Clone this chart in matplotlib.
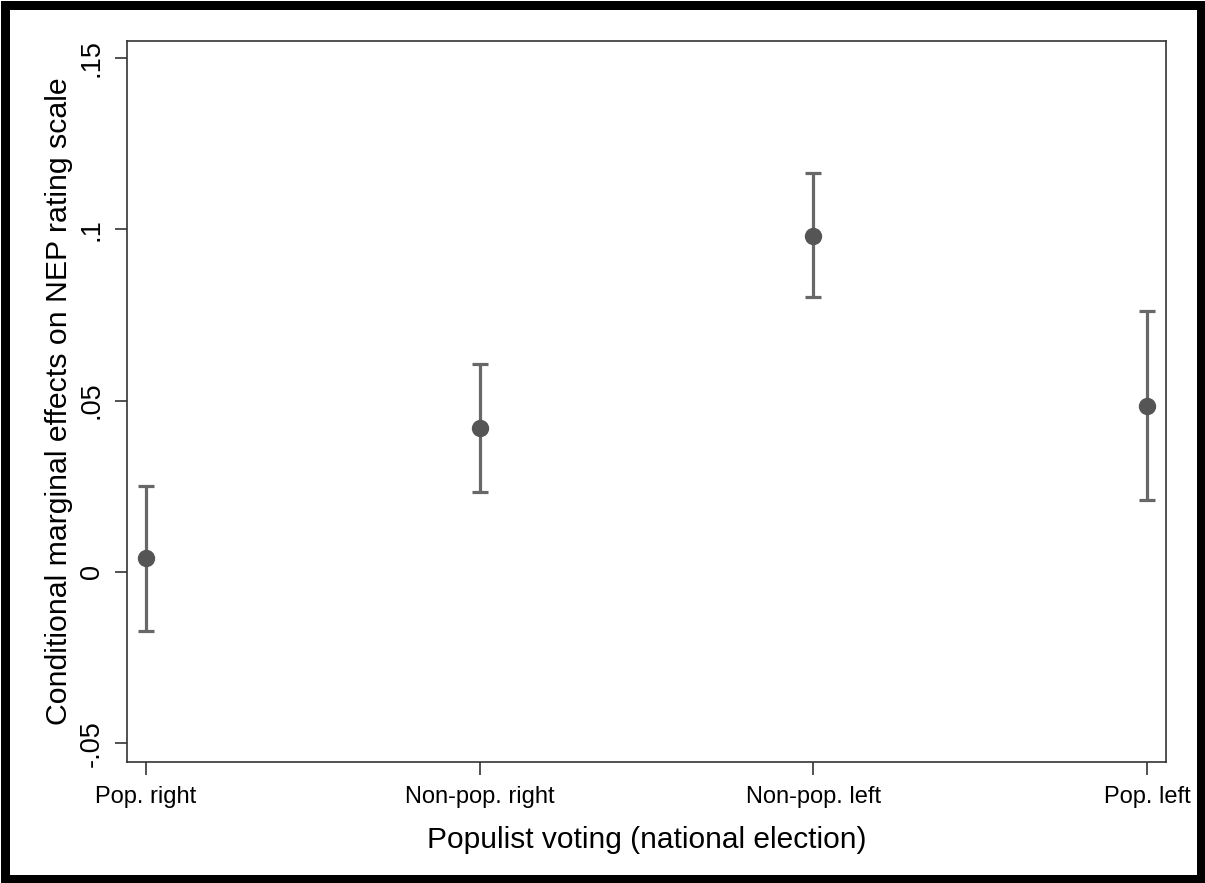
import matplotlib
matplotlib.use("Agg")
import matplotlib.pyplot as plt
import matplotlib.patches as patches

plt.rcParams["font.family"] = ["Liberation Sans", "DejaVu Sans"]

# categories and estimates
categories = ["Pop. right", "Non-pop. right", "Non-pop. left", "Pop. left"]
estimate = [0.0041, 0.0420, 0.0981, 0.0485]
ci_low = [-0.0172, 0.0234, 0.0803, 0.0210]
ci_high = [0.0251, 0.0607, 0.1165, 0.0762]
y_ticks = [-0.05, 0, 0.05, 0.1, 0.15]
y_ticklabels = ["-.05", "0", ".05", ".1", ".15"]

W, H = 1205, 883
fig = plt.figure(figsize=(W / 100, H / 100), dpi=100)
fig.patch.set_facecolor("white")
# black frame round the page (9 px wide)
fig.patches.append(patches.Rectangle(
    (4.5 / W, 4.5 / H), (W - 9) / W, (H - 9) / H,
    transform=fig.transFigure, facecolor="none",
    edgecolor="black", linewidth=9 * 0.72, zorder=10))

ax = fig.add_axes([127 / W, 1 - 762 / H, (1166 - 127) / W, (762 - 41) / H])
ax.set_facecolor("white")

x = list(range(1, len(categories) + 1))
yerr = [[e - lo for e, lo in zip(estimate, ci_low)],
        [hi - e for e, hi in zip(estimate, ci_high)]]
ax.errorbar(x, estimate, yerr=yerr, fmt="o", color="#595959",
            ecolor="#686868", elinewidth=2.3, capsize=5.5, capthick=2.3,
            markersize=11.5, markerfacecolor="#555555", markeredgecolor="#555555")

ax.set_xlim(0.943, 4.057)
ax.set_ylim(-0.0555, 0.155)
ax.set_xticks(x)
ax.set_xticklabels(categories, fontsize=17)
ax.set_yticks(y_ticks)
ax.set_yticklabels(y_ticklabels, fontsize=19.5, rotation=90, va="center")

ax.tick_params(axis="both", direction="out", length=9, width=1.2,
               color="#333333")
ax.tick_params(axis="x", pad=8)
ax.tick_params(axis="y", pad=7)
for s in ax.spines.values():
    s.set_linewidth(1.2)
    s.set_color("#333333")

ax.set_xlabel("Populist voting (national election)", fontsize=21.5, labelpad=13)
ax.set_ylabel("Conditional marginal effects on NEP rating scale", fontsize=21.8,
              labelpad=4)

fig.savefig("out.png", dpi=100)
